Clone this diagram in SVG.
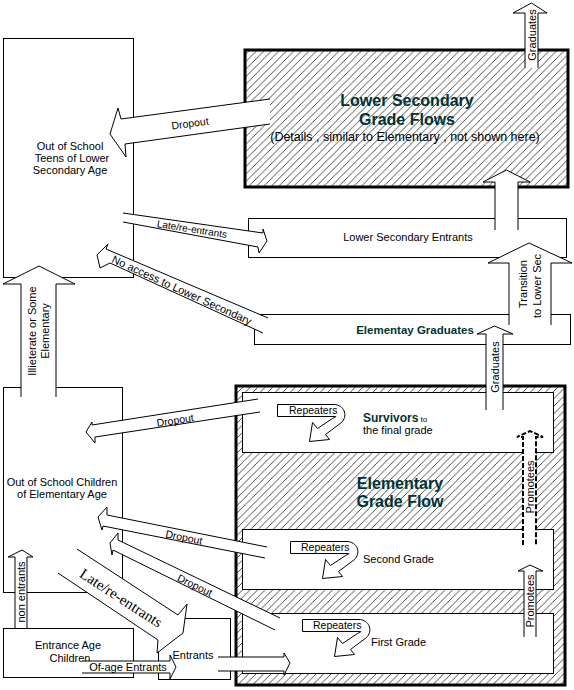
<svg xmlns="http://www.w3.org/2000/svg" width="574" height="690" viewBox="0 0 574 690">
<defs>
<pattern id="hatch" patternUnits="userSpaceOnUse" width="7.5" height="7.5">
<path d="M-1,1 L1,-1 M0,7.5 L7.5,0 M6.5,8.5 L8.5,6.5" stroke="#000" stroke-width="0.7"/>
</pattern>
<g id="rep">
<path d="M58,0 H0 V12 H58" fill="#fff" stroke="#000" stroke-width="1"/>
<path d="M58,0 C68,2 70,12 64,18 L48,30 L52,35 L32,37 L35,18 L40,24 L55,14 C59,12 59,12 58,12" fill="#fff" stroke="#000" stroke-width="1"/>
</g>
</defs>
<style>
.box{fill:#fff;stroke:#000;stroke-width:1}
.hb{fill:url(#hatch);stroke:#000;stroke-width:3}
.arr{fill:#fff;stroke:#000;stroke-width:1;stroke-linejoin:miter}
.dash{fill:#fff;stroke:#000;stroke-width:2;stroke-dasharray:5,2}
.t{font-family:"Liberation Sans",Arial,sans-serif;font-size:11px;fill:#000}
.c{text-anchor:middle}
.v{text-anchor:middle;dominant-baseline:central}
.ttl{font-family:"Liberation Sans",Arial,sans-serif;font-weight:bold;font-size:16px;fill:#003333;text-anchor:middle}
.bt{font-family:"Liberation Sans",Arial,sans-serif;font-weight:bold;fill:#003333}
.sf{font-family:"Liberation Serif","Times New Roman",serif;font-size:15px;fill:#000;text-anchor:middle;dominant-baseline:central}
</style>
<rect width="574" height="690" fill="#fff"/>

<g id="teens">
<rect class="box" x="3.5" y="38.5" width="130" height="239"/>
<text class="t c" x="70" y="150">Out of School</text>
<text class="t c" x="72" y="162">Teens of Lower</text>
<text class="t c" x="70" y="174">Secondary Age</text>
</g>
<g id="children">
<rect class="box" x="3.5" y="387.5" width="119" height="205"/>
<text class="t c" x="62" y="486">Out of School Children</text>
<text class="t c" x="62" y="498">of Elementary Age</text>
</g>
<g id="entrance">
<rect class="box" x="3.5" y="628.5" width="130" height="49"/>
<text class="t c" x="68" y="649">Entrance Age</text>
<text class="t c" x="70" y="662">Children</text>
</g>
<g id="entrants">
<rect class="box" x="158.5" y="618.5" width="72" height="61"/>
<text class="t c" x="193" y="659">Entrants</text>
</g>
<g id="lowersec">
<rect class="hb" x="245" y="50" width="323" height="137"/>
<text class="ttl" x="407" y="106">Lower Secondary</text>
<text class="ttl" x="407" y="125">Grade Flows</text>
<text class="t c" x="405" y="141" style="font-size:12.5px">(Details , similar to Elementary , not shown here)</text>
</g>
<g id="lsentrants">
<rect class="box" x="248.5" y="218.5" width="318" height="39"/>
<text class="t c" x="408" y="241">Lower Secondary Entrants</text>
</g>
<g id="elemgrads">
<rect class="box" x="254.5" y="314.5" width="316" height="30"/>
<text class="bt" x="415" y="334" text-anchor="middle" style="font-size:11.5px">Elementay Graduates</text>
</g>
<g id="elementary">
<rect class="hb" x="236" y="386" width="329" height="299"/>
<text class="ttl" x="400" y="489">Elementary</text>
<text class="ttl" x="400" y="507">Grade Flow</text>
</g>
<g id="survivors">
<rect class="box" x="242.5" y="392.5" width="311" height="60"/>
<text x="363" y="422"><tspan class="bt" style="font-size:12px">Survivors</tspan><tspan class="t" style="font-size:8px"> to</tspan></text>
<text class="t" x="363" y="434">the final grade</text>
</g>
<g id="second">
<rect class="box" x="242.5" y="529.5" width="311" height="60"/>
<text class="t" x="363" y="563">Second Grade</text>
</g>
<g id="first">
<rect class="box" x="242.5" y="613.5" width="311" height="60"/>
<text class="t" x="371" y="646">First Grade</text>
</g>

<g id="connectors">
<use href="#rep" x="277.5" y="404.5"/>
<text class="t" x="289" y="414" style="font-size:10.5px">Repeaters</text>
<use href="#rep" x="290.5" y="541.5"/>
<text class="t" x="301" y="551" style="font-size:10.5px">Repeaters</text>
<use href="#rep" x="302.5" y="619.5"/>
<text class="t" x="313" y="629" style="font-size:10.5px">Repeaters</text>

<path class="arr" d="M525,68 L525,13 L513,13 L531.5,3 L547,13 L538,13 L538,68"/>
<text class="t v" transform="translate(531.5,35) rotate(-90)">Graduates</text>
<path class="arr" d="M495,230 L495,182 L483,182 L506.5,170 L530,182 L518,182 L518,230"/>
<path class="arr" d="M509,325 L509,263 L488,263 L529,243 L572,263 L551,263 L551,325"/>
<text class="t v" transform="translate(523,284) rotate(-90)">Transition</text>
<text class="t v" transform="translate(537,286) rotate(-90)">to Lower Sec</text>
<path class="arr" d="M486,410 L486,334 L477,334 L494.5,326 L513,334 L503,334 L503,410"/>
<text class="t v" transform="translate(494.5,367) rotate(-90)">Graduates</text>
<path class="dash" d="M523,545 L523,437 L517,437 L530,431 L543,437 L536,437 L536,545"/>
<text class="t v" transform="translate(530,487) rotate(-90)">Promotees</text>
<path class="arr" d="M524,637 L524,571 L518,571 L530,565 L543,571 L536,571 L536,637"/>
<text class="t v" transform="translate(530,601) rotate(-90)">Promotees</text>

<path class="arr" d="M270,99 L121,119 L118,108 L110,134 L126,157 L125,144 L270,124"/>
<text class="t v" transform="translate(190,123) rotate(-7.6)" style="font-size:10.5px">Dropout</text>
<path class="arr" d="M123,213 L263,233 L263,229 L267,241 L259,253 L258,247 L123,222"/>
<text class="t v" transform="translate(192,229) rotate(9)" style="font-size:10px">Late/re-entrants</text>
<path class="arr" d="M268,318 L106,249 L108,244 L97,255 L100,268 L110,263 L263,333"/>
<text class="t v" transform="translate(182,290) rotate(24.5)">No access to Lower Secondary</text>
<path class="arr" d="M21,397 L21,284 L3,284 L39,266 L75,284 L56,284 L56,397"/>
<text class="t v" transform="translate(32,331) rotate(-90)">Illieterate or Some</text>
<text class="t v" transform="translate(45,331) rotate(-90)">Elementary</text>
<path class="arr" d="M258,399 L92,425 L92,422 L86,432 L95,443 L95,437 L260,412"/>
<text class="t v" transform="translate(175,420) rotate(-8.9)" style="font-size:10.5px">Dropout</text>
<path class="arr" d="M267,547 L107,515 L107,507 L98,517 L102,530 L103,526 L265,558"/>
<text class="t v" transform="translate(184,537) rotate(11.3)" style="font-size:10.5px">Dropout</text>
<path class="arr" d="M280,618 L118,540 L118,533 L110,543 L112,555 L113,550 L275,630"/>
<text class="t v" transform="translate(195,585) rotate(25.7)" style="font-size:10.5px">Dropout</text>
<path class="arr" d="M77,549 L178,615 L187,604 L183,633 L157,653 L158,640 L58,573"/>
<text class="sf" transform="translate(121,598) rotate(33)">Late/re-entrants</text>
<path class="arr" d="M15,628 L15,557 L8,557 L22,550 L33,557 L27,557 L27,628"/>
<text class="t v" transform="translate(21,592) rotate(-90)">non entrants</text>
<path class="arr" d="M82,661 L170,661 L170,655 L176,667 L170,679 L170,673 L82,673"/>
<text class="t c" x="128" y="671">Of-age Entrants</text>
<path class="arr" d="M218,657 L284,657 L284,653 L290,663 L284,675 L284,671 L218,671"/>
</g>
</svg>
